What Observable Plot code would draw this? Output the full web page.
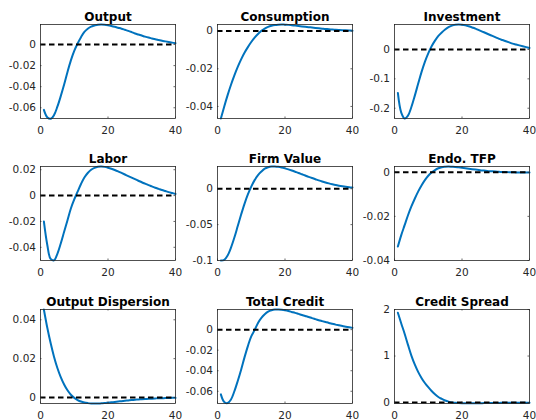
<!DOCTYPE html>
<html><head><meta charset="utf-8">
<script src="https://cdn.jsdelivr.net/npm/d3@7"></script>
<script src="https://cdn.jsdelivr.net/npm/@observablehq/plot@0.6"></script>
<style>
body{margin:0;background:#fff;}
#fig{position:relative;width:536px;height:420px;background:#fff;overflow:hidden;}
</style></head><body><div id="fig"></div>
<script>
const periods = [1,2,3,4,5,6,7,8,9,10,11,12,13,14,15,16,17,18,19,20,21,22,23,24,25,26,27,28,29,30,31,32,33,34,35,36,37,38,39,40];

const output = [-0.062,-0.069,-0.0705,-0.067,-0.059,-0.049,-0.038,-0.026,-0.015,-0.006,0.001,0.007,0.012,0.015,0.017,0.018,0.0188,0.019,0.0188,0.0183,0.0176,0.0168,0.0159,0.015,0.014,0.013,0.0118,0.0105,0.0095,0.0085,0.0075,0.0066,0.0058,0.005,0.0043,0.0036,0.003,0.0024,0.0018,0.0013];
const consumption = [-0.0464,-0.040,-0.034,-0.0285,-0.0235,-0.019,-0.015,-0.0115,-0.0085,-0.0058,-0.0035,-0.0015,0.0001,0.0013,0.0022,0.0028,0.0032,0.0034,0.0035,0.0034,0.0033,0.0031,0.0029,0.0027,0.0025,0.0023,0.0021,0.0019,0.0017,0.0015,0.0013,0.0011,0.001,0.0008,0.0007,0.0006,0.0005,0.0004,0.0003,0.0002];
const investment = [-0.148,-0.215,-0.235,-0.225,-0.196,-0.158,-0.117,-0.077,-0.042,-0.013,0.011,0.030,0.046,0.058,0.068,0.076,0.081,0.084,0.085,0.084,0.082,0.079,0.075,0.071,0.066,0.061,0.056,0.051,0.046,0.041,0.036,0.032,0.028,0.024,0.020,0.017,0.014,0.011,0.008,0.005];
const labor = [-0.020,-0.038,-0.049,-0.050,-0.045,-0.037,-0.028,-0.019,-0.010,-0.003,0.003,0.009,0.014,0.0175,0.020,0.0215,0.0223,0.0225,0.0222,0.0216,0.0208,0.0198,0.0187,0.0175,0.0163,0.0151,0.0139,0.0127,0.0115,0.0103,0.0092,0.0081,0.0071,0.0061,0.0052,0.0043,0.0035,0.0027,0.002,0.0013];
const firmValue = [-0.100,-0.099,-0.093,-0.082,-0.068,-0.052,-0.036,-0.021,-0.008,0.003,0.012,0.019,0.024,0.028,0.030,0.031,0.031,0.0305,0.0296,0.0284,0.027,0.0254,0.0237,0.022,0.0202,0.0184,0.0166,0.0149,0.0133,0.0117,0.0102,0.0088,0.0075,0.0063,0.0052,0.0043,0.0035,0.0028,0.0022,0.0017];
const endoTFP = [-0.0337,-0.0285,-0.024,-0.0195,-0.0155,-0.012,-0.0088,-0.006,-0.0036,-0.0016,-0.0001,0.001,0.0018,0.0023,0.0025,0.0026,0.0025,0.0024,0.0022,0.002,0.0018,0.0016,0.0014,0.0012,0.001,0.0008,0.0007,0.0005,0.0004,0.0003,0.0002,0.0001,0.0001,0,0,-0.0001,-0.0001,-0.0001,-0.0001,-0.0001];
const outputDispersion = [0.0453,0.036,0.028,0.021,0.0152,0.0105,0.0067,0.0037,0.0014,-0.0002,-0.0013,-0.0021,-0.0026,-0.0029,-0.0031,-0.0031,-0.0031,-0.003,-0.0029,-0.0027,-0.0025,-0.0023,-0.0021,-0.0019,-0.0017,-0.0015,-0.0013,-0.0012,-0.001,-0.0009,-0.0008,-0.0007,-0.0006,-0.0005,-0.0004,-0.0004,-0.0003,-0.0003,-0.0002,-0.0002];
const totalCredit = [-0.063,-0.0705,-0.0715,-0.068,-0.060,-0.050,-0.039,-0.027,-0.016,-0.0065,-0.0005,0.0065,0.0115,0.015,0.0175,0.0188,0.0195,0.0196,0.0193,0.0188,0.0181,0.0172,0.0163,0.0153,0.0143,0.0133,0.0123,0.0112,0.0102,0.0092,0.0083,0.0074,0.0065,0.0057,0.0049,0.0042,0.0035,0.0029,0.0023,0.0017];
const creditSpread = [1.93,1.70,1.48,1.24,1.01,0.82,0.66,0.53,0.42,0.33,0.25,0.18,0.12,0.08,0.045,0.02,0.003,-0.006,-0.011,-0.014,-0.015,-0.015,-0.015,-0.014,-0.013,-0.012,-0.011,-0.01,-0.009,-0.008,-0.007,-0.006,-0.005,-0.005,-0.004,-0.003,-0.003,-0.002,-0.002,-0.002];

const titles = ["Output","Consumption","Investment","Labor","Firm Value","Endo. TFP","Output Dispersion","Total Credit","Credit Spread"];
const seriesList = [output, consumption, investment, labor, firmValue, endoTFP, outputDispersion, totalCredit, creditSpread];
const xTicks = [0, 20, 40];
const yTickList = [
  [0,-0.02,-0.04,-0.06],
  [0,-0.02,-0.04],
  [0,-0.1,-0.2],
  [0.02,0,-0.02,-0.04],
  [0,-0.05,-0.1],
  [0,-0.02,-0.04],
  [0.04,0.02,0],
  [0,-0.02,-0.04,-0.06],
  [2,1,0]
];
const yDomains = [
  [-0.0702,0.019],
  [-0.0464,0.0035],
  [-0.235,0.085],
  [-0.0502,0.0225],
  [-0.1,0.031],
  [-0.04,0.0026],
  [-0.0031,0.0453],
  [-0.0719,0.0196],
  [-0.02,2.0]
];

const colLefts = [0, 177, 354];
const rowTops = [0, 142, 284.5];
const fig = document.getElementById("fig");
const axisColor = "#262626";

seriesList.forEach((vals, i) => {
  const data = periods.map((t, k) => ({t, v: vals[k]}));
  const [y0, y1] = yDomains[i];
  const span = y1 - y0;
  const yt = yTickList[i];
  const svg = Plot.plot({
    width: 180, height: 140,
    marginLeft: 40, marginRight: 5, marginTop: 24, marginBottom: 22,
    style: {background: "transparent", overflow: "visible", fontFamily: "DejaVu Sans", fontSize: "10.5px", position: "absolute", left: colLefts[i % 3] + "px", top: rowTops[Math.floor(i / 3)] + "px", maxWidth: "none"},
    x: {domain: [0, 40]},
    y: {domain: [y0, y1]},
    marks: [
      Plot.line(data, {x: "t", y: "v", stroke: "#0072BD", strokeWidth: 2, curve: "catmull-rom"}),
      Plot.ruleY([0], {stroke: "black", strokeWidth: 2, strokeDasharray: "5.5,3.5"}),
      Plot.ruleY(yt, {x1: 0, x2: 0.45, stroke: axisColor, strokeWidth: 0.7}),
      Plot.ruleY(yt, {x1: 39.55, x2: 40, stroke: axisColor, strokeWidth: 0.7}),
      Plot.ruleX(xTicks, {y1: y0, y2: y0 + span * 0.016, stroke: axisColor, strokeWidth: 0.7}),
      Plot.ruleX(xTicks, {y1: y1 - span * 0.016, y2: y1, stroke: axisColor, strokeWidth: 0.7}),
      Plot.frame({stroke: axisColor, strokeWidth: 0.8}),
      Plot.axisX({ticks: xTicks, tickSize: 0, tickPadding: 8.5, tickFormat: d => String(d), label: null, fill: axisColor, fontSize: 10.5}),
      Plot.axisY({ticks: yt, tickSize: 0, tickPadding: 4.5, tickFormat: d => String(d), label: null, fill: axisColor, fontSize: 10.5}),
      Plot.text([titles[i]], {frameAnchor: "top", lineAnchor: "bottom", dy: -4, fontWeight: "bold", fontSize: 12, fill: "black"})
    ]
  });
  fig.appendChild(svg);
});
</script></body></html>
